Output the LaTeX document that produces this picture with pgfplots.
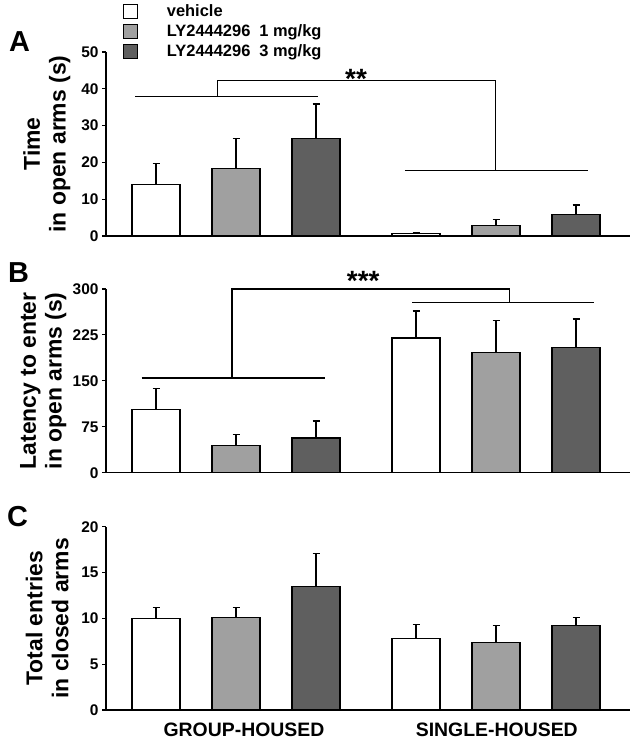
\documentclass[border=0pt]{standalone}
\usepackage{fontspec}
\setmainfont{Liberation Sans}
\usepackage{pgfplots}
\pgfplotsset{compat=1.18}
\definecolor{lg}{RGB}{160,160,160}
\definecolor{dg}{RGB}{95,95,95}
\newcommand{\fs}[1]{\fontsize{#1}{#1}\selectfont\bfseries}
\pgfplotsset{
  panel/.style={
    scale only axis, width=524bp, height=184bp,
    xmin=-0.625, xmax=5.925, ymin=0,
    axis lines*=left, axis line style={line width=1.1bp, black},
    ybar, bar width=0.6, bar shift=0pt,
    tick align=outside, major tick length=4bp,
    ytick style={line width=1.1bp, black},
    xtick=\empty,
    /pgf/number format/assume math mode=true,
    yticklabel style={font=\fs{15.5}},
    every axis y label/.style={at={(rel axis cs:0,0.5)}, rotate=90, anchor=south, align=center, font=\fontsize{23}{26}\selectfont\bfseries},
    clip=false,
  },
  barstyle/.style={draw=black, line width=1.1bp,
    error bars/y dir=plus, error bars/y explicit,
    error bars/error mark=|,
    error bars/error bar style={line width=1.3bp, black},
    error bars/error mark options={mark size=3.5bp, line width=1.3bp, black}},
  b1/.style={barstyle, fill=white},
  b2/.style={barstyle, fill=lg},
  b3/.style={barstyle, fill=dg},
}
\begin{document}
\begin{tikzpicture}
\useasboundingbox (0,0) rectangle (639bp,748bp);
% Panel A
\begin{axis}[panel, at={(106bp,512bp)}, anchor=south west, height=184bp,
  ymax=50, ytick={0,10,20,30,40,50},
  ylabel={Time\\in open arms (s)},
  ylabel style={yshift=32bp},
  legend style={draw=none, fill=none, at={(rel axis cs:0.026,1.279)}, anchor=north west,
    font=\fs{16.5}, row sep=2.5bp, cells={anchor=west}},
  legend image code/.code={\draw[#1] (0bp,-7bp) rectangle (14bp,7bp);},
  /tikz/every odd column/.append style={column sep=27bp},
]
\addplot[b1] coordinates {(0,13.9) +- (0,5.85) (3.25,0.6) +- (0,0.3)};
\addplot[b2] coordinates {(1,18.4) +- (0,8.1) (4.25,2.9) +- (0,1.5)};
\addplot[b3] coordinates {(2,26.5) +- (0,9.4) (5.25,5.8) +- (0,2.6)};
\legend{vehicle, LY2444296\hspace{9bp}1 mg/kg, LY2444296\hspace{9bp}3 mg/kg}
\draw[line width=1.1bp] (axis cs:-0.26,37.9) -- (axis cs:2.02,37.9);
\draw[line width=1.1bp] (axis cs:0.77,37.9) -- (axis cs:0.77,42.2) -- (axis cs:4.24,42.2) -- (axis cs:4.24,17.9);
\draw[line width=1.1bp] (axis cs:3.11,17.9) -- (axis cs:5.4,17.9);
\node[anchor=base, font=\fs{28}, inner sep=0pt] at (axis cs:2.5,40.2) {**};
\end{axis}
% Panel B
\begin{axis}[panel, at={(106bp,275.3bp)}, anchor=south west, height=183.7bp,
  ymax=300, ytick={0,75,150,225,300},
  ylabel={Latency to enter\\in open arms (s)},
  ylabel style={yshift=36bp},
]
\addplot[b1] coordinates {(0,103.6) +- (0,34.3) (3.25,220) +- (0,44)};
\addplot[b2] coordinates {(1,44.8) +- (0,17.2) (4.25,197) +- (0,51)};
\addplot[b3] coordinates {(2,56.7) +- (0,27.8) (5.25,205) +- (0,46)};
\draw[line width=1.1bp] (axis cs:-0.18,154.7) -- (axis cs:2.11,154.7);
\draw[line width=1.1bp] (axis cs:0.95,154.7) -- (axis cs:0.95,300) -- (axis cs:4.42,300) -- (axis cs:4.42,278.4);
\draw[line width=1.1bp] (axis cs:3.2,278.4) -- (axis cs:5.48,278.4);
\node[anchor=base, font=\fs{28}, inner sep=0pt] at (axis cs:2.59,296.9) {***};
\end{axis}
% Panel C
\begin{axis}[panel, at={(106bp,38bp)}, anchor=south west, height=183.3bp,
  ymax=20, ytick={0,5,10,15,20},
  ylabel={Total entries\\in closed arms},
  ylabel style={yshift=34bp},
  xtick={1.1,4.26}, xticklabels={GROUP-HOUSED,SINGLE-HOUSED},
  xtick style={draw=none},
  xticklabel style={font=\fs{19.5}, yshift=-5bp},
]
\addplot[b1] coordinates {(0,10.0) +- (0,1.2) (3.25,7.85) +- (0,1.5)};
\addplot[b2] coordinates {(1,10.1) +- (0,1.1) (4.25,7.35) +- (0,1.85)};
\addplot[b3] coordinates {(2,13.45) +- (0,3.65) (5.25,9.24) +- (0,0.86)};
\end{axis}
\node[anchor=base west, font=\fs{29}, inner sep=0pt] at (9bp,696bp) {A};
\node[anchor=base west, font=\fs{29}, inner sep=0pt] at (8bp,465bp) {B};
\node[anchor=base west, font=\fs{29}, inner sep=0pt] at (7bp,221bp) {C};
\end{tikzpicture}
\end{document}
